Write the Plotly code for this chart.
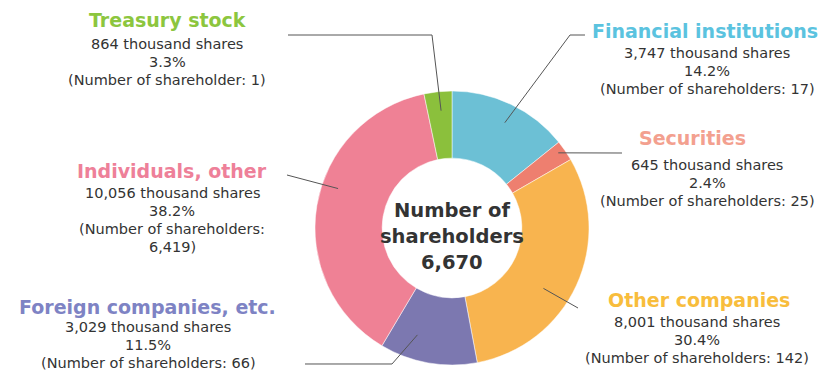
import math
import plotly.graph_objects as go

# Shareholding by type of shareholder
categories = ["Financial institutions", "Securities", "Other companies",
              "Foreign companies, etc.", "Individuals, other", "Treasury stock"]
shares_thousand = [3747, 645, 8001, 3029, 10056, 864]
share_pct = ["14.2%", "2.4%", "30.4%", "11.5%", "38.2%", "3.3%"]
holder_lines = [
    ["(Number of shareholders: 17)"],
    ["(Number of shareholders: 25)"],
    ["(Number of shareholders: 142)"],
    ["(Number of shareholders: 66)"],
    ["(Number of shareholders:", "6,419)"],
    ["(Number of shareholder: 1)"],
]
total_holders = "6,670"

slice_colors = ["#6CC0D5", "#EE7F6F", "#F8B44F", "#7C78B0", "#EF8195", "#8BC03C"]
title_colors = ["#5BC3DF", "#F3A08F", "#F8BD3C", "#7E83C4", "#EE8099", "#8CC63E"]

W, H = 823, 371
CX, CY, R = 452, 228, 137      # donut centre and outer radius (pixels)
HOLE = 0.51


def paper(x, y):
    return x / W, 1 - y / H


# Label block layout: title centre, body centre, first body line y
label_layout = [
    dict(tx=705, ty=31, bx=707, by=53),
    dict(tx=692, ty=138, bx=707, by=165),
    dict(tx=699, ty=300, bx=697, by=322),
    dict(tx=147, ty=307, bx=148, by=327),
    dict(tx=172, ty=171, bx=172, by=193),
    dict(tx=167, ty=20, bx=167, by=44),
]
LINE_H = 18

# Leader lines: position within slice (0..1), radius factor, then path points
leaders = [
    dict(t=0.52, rf=0.86, path=[(570, 35), (585, 35)]),
    dict(t=0.40, rf=0.95, path=[(622, 153)]),
    dict(t=0.58, rf=0.80, path=[(578, 308)]),
    dict(t=0.69, rf=0.82, path=[(392, 364), (305, 364)]),
    dict(t=0.57, rf=0.88, path=[(287, 175)]),
    dict(t=0.55, rf=0.86, path=[(432, 35), (288, 35)]),
]

x0, y0 = paper(CX - R, CY + R)
x1, y1 = paper(CX + R, CY - R)

fig = go.Figure(go.Pie(
    labels=categories,
    values=shares_thousand,
    sort=False,
    direction="clockwise",
    rotation=0,
    hole=HOLE,
    marker=dict(colors=slice_colors, line=dict(color="white", width=0.5)),
    textinfo="none",
    hoverinfo="label+value+percent",
    showlegend=False,
    domain=dict(x=[x0, x1], y=[y0, y1]),
))

total = sum(shares_thousand)
shapes = []
annotations = []
cum = 0
for i, v in enumerate(shares_thousand):
    ld = leaders[i]
    frac = (cum + ld["t"] * v) / total
    ang = 2 * math.pi * frac
    ax = CX + ld["rf"] * R * math.sin(ang)
    ay = CY - ld["rf"] * R * math.cos(ang)
    pts = [(ax, ay)] + ld["path"]
    path = "M " + " L ".join(f"{paper(px, py)[0]:.5f},{paper(px, py)[1]:.5f}" for px, py in pts)
    shapes.append(dict(type="path", path=path, xref="paper", yref="paper",
                       line=dict(color="#555555", width=1)))
    cum += v

    lay = label_layout[i]
    tx, ty = paper(lay["tx"], lay["ty"])
    annotations.append(dict(
        x=tx, y=ty, xref="paper", yref="paper", showarrow=False,
        xanchor="center", yanchor="middle",
        text=f"<b>{categories[i]}</b>",
        font=dict(family="DejaVu Sans", size=19, color=title_colors[i]),
    ))
    body = [f"{v:,} thousand shares", share_pct[i]] + holder_lines[i]
    for k, line in enumerate(body):
        bx, by = paper(lay["bx"], lay["by"] + k * LINE_H)
        annotations.append(dict(
            x=bx, y=by, xref="paper", yref="paper", showarrow=False,
            xanchor="center", yanchor="middle", text=line,
            font=dict(family="DejaVu Sans", size=14.5, color="#333333"),
        ))

for k, line in enumerate(["Number of", "shareholders", total_holders]):
    px_, py_ = paper(CX, 210 + k * 26)
    annotations.append(dict(
        x=px_, y=py_, xref="paper", yref="paper", showarrow=False,
        xanchor="center", yanchor="middle", text=f"<b>{line}</b>",
        font=dict(family="DejaVu Sans", size=19.5, color="#333333"),
    ))

fig.update_layout(
    width=W, height=H,
    margin=dict(l=0, r=0, t=0, b=0),
    paper_bgcolor="white",
    plot_bgcolor="white",
    shapes=shapes,
    annotations=annotations,
)

fig.write_html("out.html")
